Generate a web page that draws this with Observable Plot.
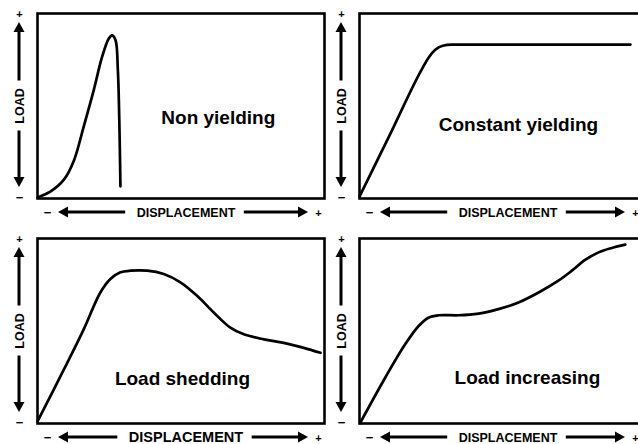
<!DOCTYPE html>
<html>
<head>
<meta charset="utf-8">
<script src="https://cdn.jsdelivr.net/npm/d3@7"></script>
<script src="https://cdn.jsdelivr.net/npm/@observablehq/plot@0.6"></script>
<style>
  html, body { margin: 0; padding: 0; background: white; }
  #wrap { position: relative; width: 638px; height: 444px; overflow: hidden; background: white; }
  #wrap svg { position: absolute; }
</style>
</head>
<body>
<div id="wrap"></div>
<script>
// ---- data (normalised displacement 0–100, load 0–100) ----
const titles = ["Non yielding", "Constant yielding", "Load shedding", "Load increasing"];
const axisLabels = ["LOAD", "DISPLACEMENT"];
const tickLabels = ["−", "+"];

const nonYieldingX = [0, 4.6, 9.2, 12.7, 16.1, 19.6, 22.5, 24.8, 26.0, 27.2, 28.0, 28.5, 28.9];
const nonYieldingY = [0.6, 3.9, 10.2, 20.6, 38.9, 58.6, 76.5, 86.4, 88.2, 85.5, 69.4, 42.5, 6.6];

const constantX = [0, 10.9, 21.8, 24.0, 26.5, 29.0, 32.0, 94.4];
const constantY = [1, 35.5, 70.1, 76.0, 80.5, 82.6, 83.2, 83.2];

const sheddingX = [0, 9.2, 16.1, 21.9, 25.4, 28.9, 32.4, 38.2, 44.0, 49.8, 55.6, 61.4, 67.2, 71.9, 78.9, 85.8, 92.8, 98.6];
const sheddingY = [1.1, 29.2, 50.9, 70.8, 78.1, 81.7, 82.6, 82.6, 80.8, 76.3, 69.0, 60.0, 51.8, 48.2, 45.5, 43.6, 40.9, 38.2];

const increasingX = [0.2, 8.9, 15.9, 20.6, 24.0, 27.5, 34.5, 41.5, 48.4, 55.4, 62.4, 69.3, 74.0, 78.6, 83.3, 87.9, 92.6];
const increasingY = [0.2, 24.6, 42.8, 52.7, 57.2, 58.5, 58.5, 59.4, 61.8, 65.4, 70.8, 77.2, 82.6, 88.4, 92.5, 94.9, 96.7];

// ---- layout of the four panels ----
const panels = [
  {title: titles[0], xs: nonYieldingX, ys: nonYieldingY, curve: "catmull-rom", tx: 63, ty: 43.5, left: 0, top: 0, labelSize: 12.5, plusDx: -6},
  {title: titles[1], xs: constantX, ys: constantY, curve: "monotone-x", tx: 55.4, ty: 40, left: 322, top: 0, labelSize: 12.5, plusDx: -11},
  {title: titles[2], xs: sheddingX, ys: sheddingY, curve: "catmull-rom", tx: 50.5, ty: 24.3, left: 0, top: 225, labelSize: 14.5, plusDx: -6},
  {title: titles[3], xs: increasingX, ys: increasingY, curve: "catmull-rom", tx: 58.5, ty: 24.9, left: 322, top: 225, labelSize: 12.5, plusDx: -11}
];

const FONT = "Liberation Sans, Arial, Helvetica, sans-serif";

function decorations(labelSize, tipInset) {
  const half = 7.889 * labelSize / 2;
  return (index, scales, values, dim) => {
    const L = dim.marginLeft, R = dim.width - dim.marginRight;
    const T = dim.marginTop, B = dim.height - dim.marginBottom;
    const g = d3.create("svg:g").attr("fill", "black").attr("stroke", "black");
    const line = (x1, y1, x2, y2) => g.append("line")
      .attr("x1", x1).attr("y1", y1).attr("x2", x2).attr("y2", y2)
      .attr("stroke-width", 3);
    const tri = pts => g.append("polygon").attr("stroke", "none")
      .attr("points", pts.map(p => p.join(",")).join(" "));
    // vertical LOAD arrow
    const ax = L - 18, my = (T + B) / 2;
    line(ax, T + 17, ax, my - 25);
    line(ax, my + 25, ax, B - 19);
    tri([[ax, T + 9], [ax - 5.5, T + 19], [ax + 5.5, T + 19]]);
    tri([[ax, B - 11], [ax - 5.5, B - 21], [ax + 5.5, B - 21]]);
    // horizontal DISPLACEMENT arrow
    const ay = B + 14, cx = (L + R) / 2 + 5;
    const tip = R - tipInset;
    line(L + 29, ay, cx - half - 11, ay);
    line(cx + half + 9, ay, tip - 8, ay);
    tri([[L + 21, ay], [L + 31, ay - 5.5], [L + 31, ay + 5.5]]);
    tri([[tip, ay], [tip - 10, ay - 5.5], [tip - 10, ay + 5.5]]);
    return g.node();
  };
}

const wrap = document.getElementById("wrap");
for (const p of panels) {
  const pts = d3.zip(p.xs, p.ys);
  const chart = Plot.plot({
    width: 330,
    height: 222,
    marginLeft: 37,
    marginRight: 6,
    marginTop: 13,
    marginBottom: 24,
    style: {fontFamily: FONT, background: "transparent", overflow: "visible"},
    x: {domain: [0, 100], axis: null},
    y: {domain: [0, 100], axis: null},
    marks: [
      Plot.line(pts, {x: d => d[0], y: d => d[1], curve: p.curve, stroke: "black", strokeWidth: 2.7}),
      Plot.frame({stroke: "black", strokeWidth: 2.6}),
      Plot.text([p.title], {x: p.tx, y: p.ty, fontSize: 19, fontWeight: "bold", fill: "black", fontFamily: FONT}),
      Plot.text([axisLabels[0]], {frameAnchor: "left", dx: -18, rotate: -90, fontSize: 12.5, fontWeight: "bold", fill: "black", textAnchor: "middle", lineAnchor: "middle", fontFamily: FONT}),
      Plot.text([axisLabels[1]], {frameAnchor: "bottom", dx: 5, dy: 14, fontSize: p.labelSize, fontWeight: "bold", fill: "black", textAnchor: "middle", lineAnchor: "middle", fontFamily: FONT}),
      Plot.text([tickLabels[1]], {frameAnchor: "top-left", dx: -18, dy: 1, fontSize: 11, fontWeight: "bold", fill: "black", textAnchor: "middle", lineAnchor: "middle", fontFamily: FONT}),
      Plot.text([tickLabels[0]], {frameAnchor: "bottom-left", dx: -18, dy: -1, fontSize: 13, fontWeight: "bold", fill: "black", textAnchor: "middle", lineAnchor: "middle", fontFamily: FONT}),
      Plot.text([tickLabels[0]], {frameAnchor: "bottom-left", dx: 10, dy: 14, fontSize: 13, fontWeight: "bold", fill: "black", textAnchor: "middle", lineAnchor: "middle", fontFamily: FONT}),
      Plot.text([tickLabels[1]], {frameAnchor: "bottom-right", dx: p.plusDx, dy: 15, fontSize: 11, fontWeight: "bold", fill: "black", textAnchor: "middle", lineAnchor: "middle", fontFamily: FONT}),
      decorations(p.labelSize, -p.plusDx + 10)
    ]
  });
  chart.style.left = p.left + "px";
  chart.style.top = p.top + "px";
  wrap.appendChild(chart);
}
</script>
</body>
</html>
